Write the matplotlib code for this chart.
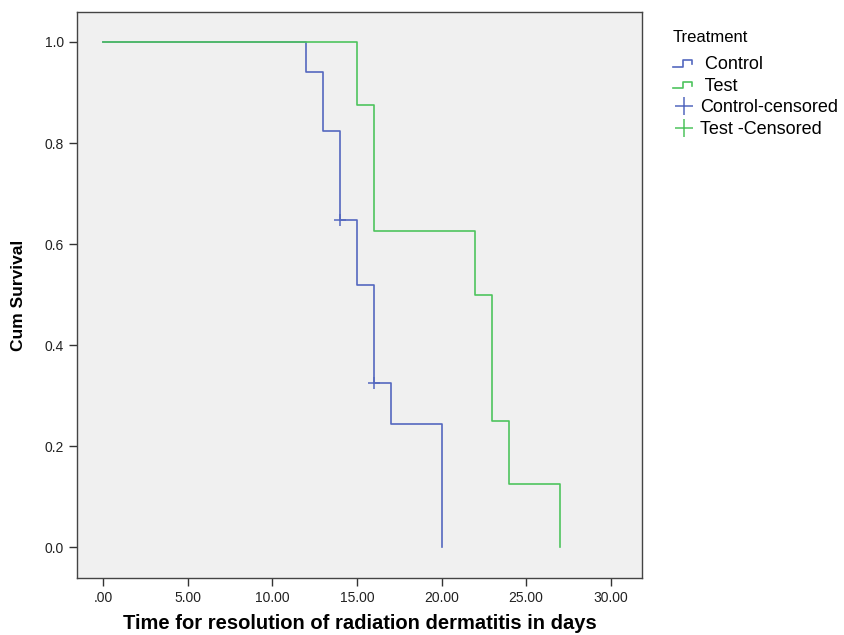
'''Kaplan-Meier: tempo para resolucao da dermatite'''
import matplotlib.pyplot as plt
from matplotlib.lines import Line2D
from matplotlib.legend_handler import HandlerBase

plt.rcParams['font.family'] = ['Liberation Sans', 'DejaVu Sans']

# dados ======================================================================
control_days = [0, 12, 13, 14, 15, 16, 17, 20]
control_surv = [1.0, 0.941, 0.824, 0.647, 0.518, 0.324, 0.243, 0.0]
test_days = [0, 15, 16, 22, 23, 24, 27]
test_surv = [1.0, 0.875, 0.625, 0.5, 0.25, 0.125, 0.0]
control_cens_days = [14, 16]
control_cens_surv = [0.647, 0.324]
test_cens_days = []
test_cens_surv = []

x_ticks = [0, 5, 10, 15, 20, 25, 30]
x_labels = ['.00', '5.00', '10.00', '15.00', '20.00', '25.00', '30.00']
y_ticks = [0.0, 0.2, 0.4, 0.6, 0.8, 1.0]

blue = '#5468bf'
green = '#4ec45e'


class StepHandler(HandlerBase):
    # desenha o pequeno degrau da legenda (estilo SPSS)
    def create_artists(self, legend, orig, xd, yd, w, h, fontsize, trans):
        xs = [xd, xd + w * 0.45, xd + w * 0.45, xd + w * 0.9, xd + w * 0.9]
        ys = [yd + h * 0.2, yd + h * 0.2, yd + h * 0.7, yd + h * 0.7, yd + h * 0.4]
        ln = Line2D(xs, ys, color=orig.get_color(), lw=1.2, transform=trans)
        return [ln]


fig = plt.figure(figsize=(8.44, 6.35), dpi=100)
ax = fig.add_axes([0.0912, 0.0898, 0.6695, 0.891])
ax.set_facecolor('#f0f0f0')

ax.step(control_days, control_surv, where='post', color=blue, lw=1.2)
ax.step(test_days, test_surv, where='post', color=green, lw=1.2)
ax.plot(control_cens_days, control_cens_surv, '+', color=blue, ms=8, mew=1.1)
ax.plot(test_cens_days, test_cens_surv, '+', color=green, ms=8, mew=1.1)

ax.set_xlim(-1.56, 31.85)
ax.set_ylim(-0.061, 1.059)
ax.set_xticks(x_ticks)
ax.set_xticklabels(x_labels)
ax.set_yticks(y_ticks)
ax.set_yticklabels(['%.1f' % v for v in y_ticks])
ax.tick_params(direction='out', length=6, width=1, colors='#333333',
               labelsize=10, labelcolor='#222222')
for s in ax.spines.values():
    s.set_color('#444444')
    s.set_linewidth(1)

ax.set_xlabel('Time for resolution of radiation dermatitis in days',
              fontsize=14.5, fontweight='bold', labelpad=6)
ax.set_ylabel('Cum Survival', fontsize=12.5, fontweight='bold', labelpad=13)

h_ctrl = Line2D([], [], color=blue)
h_test = Line2D([], [], color=green)
h_cc = Line2D([], [], color=blue, marker='+', ls='none', ms=13, mew=1.1)
h_tc = Line2D([], [], color=green, marker='+', ls='none', ms=13, mew=1.1)
leg = fig.legend([h_ctrl, h_test, h_cc, h_tc],
                 [' Control', ' Test', 'Control-censored', 'Test -Censored'],
                 handler_map={h_ctrl: StepHandler(), h_test: StepHandler()},
                 loc='upper left', bbox_to_anchor=(0.778, 0.978),
                 title='Treatment', frameon=False, fontsize=13,
                 title_fontsize=12, handlelength=1.2, handletextpad=0.3,
                 labelspacing=0.25, alignment='left')
leg._legend_box.sep = 8

fig.savefig('out.png', dpi=100)
